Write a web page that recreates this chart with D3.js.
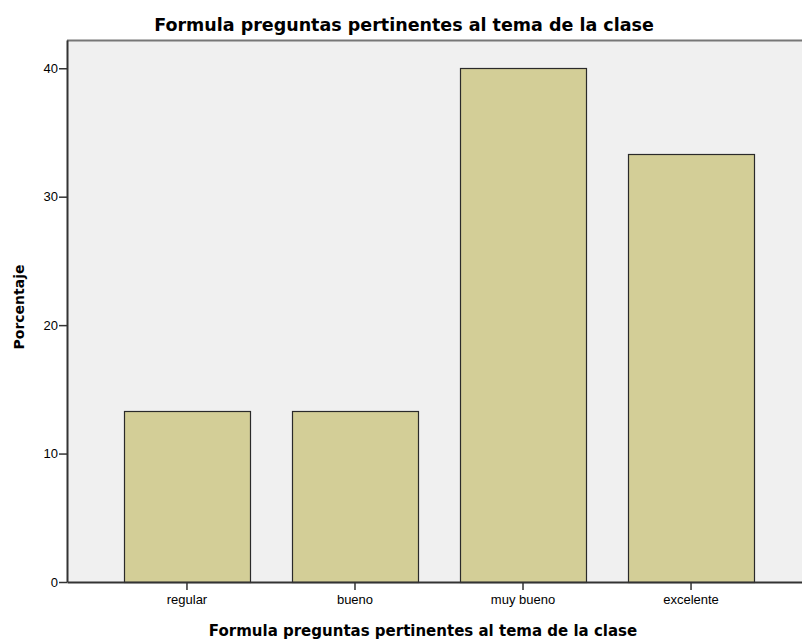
<!DOCTYPE html>
<meta charset="utf-8">
<style>
body { margin: 0; background: #fff; }
text { font-family: "Liberation Sans", Arial, sans-serif; fill: #000; }
.axis path, .axis line { stroke: #333; }
</style>
<body></body>
<script src="https://cdnjs.cloudflare.com/ajax/libs/d3/7.8.5/d3.min.js"></script>
<script>
// datos
var categories = ["regular", "bueno", "muy bueno", "excelente"];
var values = [13.33, 13.33, 40.0, 33.33];
var yTicks = [0, 10, 20, 30, 40];

var margin = {top: 40, right: -9, bottom: 58, left: 67},
    W = 802, H = 640,
    width = W - margin.left - margin.right,
    height = H - margin.top - margin.bottom;

var svg = d3.select("body").append("svg")
    .attr("width", W)
    .attr("height", H);

var g = svg.append("g")
    .attr("transform", "translate(" + margin.left + "," + margin.top + ")");

var x = d3.scaleBand().domain(categories).range([0, width])
    .paddingInner(0.25).paddingOuter(0.339);
var y = d3.scaleLinear().domain([0, 42.2]).range([height, 0]);

// fondo
g.append("rect")
    .attr("width", width).attr("height", height)
    .attr("fill", "#f0f0f0");
g.append("line")
    .attr("x1", 0).attr("x2", width).attr("y1", 0.5).attr("y2", 0.5)
    .attr("stroke", "#777").attr("stroke-width", 2);

g.selectAll(".bar")
    .data(values)
    .enter().append("rect")
    .attr("class", "bar")
    .attr("x", function(d, i) { return Math.round(x(categories[i])) + 0.5; })
    .attr("width", Math.round(x.bandwidth()))
    .attr("y", function(d) { return Math.round(y(d)) + 0.5; })
    .attr("height", function(d) { return height - Math.round(y(d)); })
    .attr("fill", "#d3ce97")
    .attr("stroke", "#2a2a2a")
    .attr("stroke-width", 1.2);

var yAxis = g.append("g").attr("class", "axis")
    .call(d3.axisLeft(y).tickValues(yTicks).tickSize(8).tickPadding(1).tickSizeOuter(0));
yAxis.select(".domain").attr("stroke-width", 2);
yAxis.selectAll("line").attr("stroke-width", 1.5);
yAxis.selectAll("text").style("font-size", "13px");

var xAxis = g.append("g").attr("class", "axis")
    .attr("transform", "translate(0," + height + ")")
    .call(d3.axisBottom(x).tickSize(8).tickPadding(5).tickSizeOuter(0));
xAxis.select(".domain").attr("stroke-width", 2);
xAxis.selectAll("line").attr("stroke-width", 1.5);
xAxis.selectAll("text").style("font-size", "13px");

svg.append("text")
    .attr("x", 404).attr("y", 31)
    .attr("text-anchor", "middle")
    .style("font-family", "'DejaVu Sans', sans-serif")
    .style("font-size", "17.5px").style("font-weight", "bold")
    .text("Formula preguntas pertinentes al tema de la clase");

svg.append("text")
    .attr("x", 423).attr("y", 636)
    .attr("text-anchor", "middle")
    .style("font-family", "'DejaVu Sans', sans-serif")
    .style("font-size", "15px").style("font-weight", "bold")
    .text("Formula preguntas pertinentes al tema de la clase");

svg.append("text")
    .attr("transform", "translate(24,307) rotate(-90)")
    .attr("text-anchor", "middle")
    .style("font-family", "'DejaVu Sans', sans-serif")
    .style("font-size", "14px").style("font-weight", "bold")
    .text("Porcentaje");
</script>
